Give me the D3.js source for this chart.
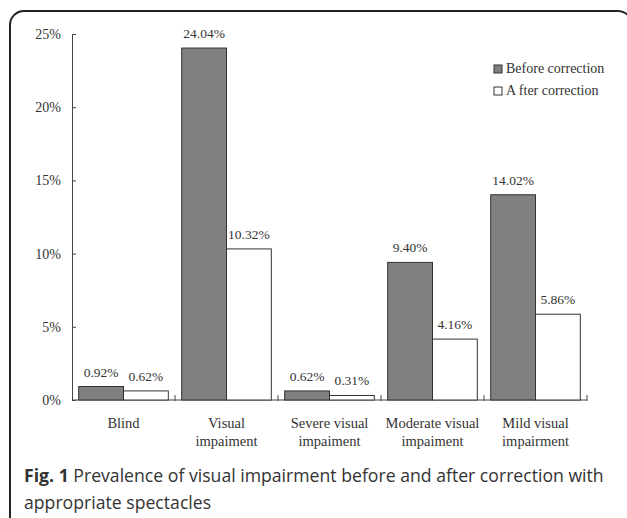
<!DOCTYPE html>
<html>
<head>
<meta charset="utf-8">
<script src="https://cdn.jsdelivr.net/npm/d3@7"></script>
<style>
  body { margin: 0; background: #fff; }
  svg text { fill: #333; }
</style>
</head>
<body>
<div id="vis"></div>
<script>
// Data
const categories = [
    ["Blind"],
    ["Visual", "impaiment"],
    ["Severe visual", "impaiment"],
    ["Moderate visual", "impaiment"],
    ["Mild visual", "impairment"]
];
const before = [0.92, 24.04, 0.62, 9.40, 14.02];
const after = [0.62, 10.32, 0.31, 4.16, 5.86];
const seriesNames = ["Before correction", "A fter correction"];
const yTicks = [0, 5, 10, 15, 20, 25];

const width = 627, height = 518;
const serif = "'Liberation Serif', 'Times New Roman', serif";

const svg = d3.select("#vis").append("svg")
    .attr("width", width)
    .attr("height", height);

// Frame
svg.append("rect")
    .attr("x", 10).attr("y", 11)
    .attr("width", 622).attr("height", 530)
    .attr("rx", 14).attr("ry", 14)
    .attr("fill", "none")
    .attr("stroke", "#222")
    .attr("stroke-width", 2);

// Scales
const x = d3.scaleBand()
    .domain(d3.range(categories.length))
    .range([72, 587])
    .paddingInner(0.13)
    .paddingOuter(0.065);

const y = d3.scaleLinear()
    .domain([0, 25])
    .range([400, 34]);

const g = svg.append("g");

// Y axis
const yAxis = g.append("g")
    .attr("transform", "translate(72,0)")
    .call(d3.axisRight(y).tickValues(yTicks).tickSize(4).tickFormat(""));
yAxis.select(".domain").attr("stroke", "#444");
yAxis.selectAll(".tick line").attr("stroke", "#444");

g.selectAll(".ylab")
    .data(yTicks)
    .enter().append("text")
    .attr("class", "ylab")
    .attr("x", 61)
    .attr("y", d => y(d) + 5)
    .attr("text-anchor", "end")
    .style("font-family", serif)
    .style("font-size", "14px")
    .text(d => d + "%");

// X axis
const step = x.step();
const xTickPos = d3.range(categories.length + 1).map(i => 72 + i * step);
g.append("line")
    .attr("x1", 72).attr("x2", 587)
    .attr("y1", y(0)).attr("y2", y(0))
    .attr("stroke", "#444");
g.selectAll(".xtick")
    .data(xTickPos.slice(1))
    .enter().append("line")
    .attr("class", "xtick")
    .attr("x1", d => d).attr("x2", d => d)
    .attr("y1", y(0) - 5).attr("y2", y(0) + 1)
    .attr("stroke", "#444");

// Bars
const bw = x.bandwidth() / 2;
const groups = g.selectAll(".grp")
    .data(categories.map((c, i) => ({ i: i, b: before[i], a: after[i] })))
    .enter().append("g")
    .attr("class", "grp")
    .attr("transform", d => "translate(" + x(d.i) + ",0)");

groups.append("rect")
    .attr("x", 0)
    .attr("y", d => y(d.b))
    .attr("width", bw)
    .attr("height", d => y(0) - y(d.b))
    .attr("fill", "#808080")
    .attr("stroke", "#333");

groups.append("rect")
    .attr("x", bw)
    .attr("y", d => y(d.a))
    .attr("width", bw)
    .attr("height", d => y(0) - y(d.a))
    .attr("fill", "#fff")
    .attr("stroke", "#333");

groups.append("text")
    .attr("x", bw / 2)
    .attr("y", d => y(d.b) - 10)
    .attr("text-anchor", "middle")
    .style("font-family", serif)
    .style("font-size", "13.5px")
    .text(d => d.b.toFixed(2) + "%");

groups.append("text")
    .attr("x", bw * 1.5)
    .attr("y", d => y(d.a) - 10)
    .attr("text-anchor", "middle")
    .style("font-family", serif)
    .style("font-size", "13.5px")
    .text(d => d.a.toFixed(2) + "%");

// Category labels
categories.forEach((lines, i) => {
    const t = g.append("text")
        .attr("text-anchor", "middle")
        .style("font-family", serif)
        .style("font-size", "14.5px");
    lines.forEach((l, j) => {
        t.append("tspan")
            .attr("x", x(i) + x.bandwidth() / 2)
            .attr("y", 428 + j * 18)
            .text(l);
    });
});

// Legend
const legendFill = ["#808080", "#fff"];
const legend = svg.selectAll(".leg")
    .data(seriesNames)
    .enter().append("g")
    .attr("class", "leg")
    .attr("transform", (d, i) => "translate(494," + (65 + i * 22) + ")");
legend.append("rect")
    .attr("width", 8).attr("height", 8)
    .attr("fill", (d, i) => legendFill[i])
    .attr("stroke", "#333");
legend.append("text")
    .attr("x", 12).attr("y", 8)
    .style("font-family", serif)
    .style("font-size", "14px")
    .text(d => d);

// Caption, sized so the first line fits the same width as the reference
const capFont = "'Open Sans', sans-serif";
const cap = svg.append("text")
    .attr("x", 24).attr("y", 482)
    .style("font-family", capFont)
    .style("font-size", "19px");
cap.append("tspan").style("font-weight", "bold").text("Fig. 1");
cap.append("tspan").text(" Prevalence of visual impairment before and after correction with");
const cap2 = svg.append("text")
    .attr("x", 24).attr("y", 509)
    .style("font-family", capFont)
    .style("font-size", "19px")
    .text("appropriate spectacles");

const fit = 19 * 580 / cap.node().getComputedTextLength();
cap.style("font-size", fit + "px");
cap2.style("font-size", fit + "px");
</script>
</body>
</html>
